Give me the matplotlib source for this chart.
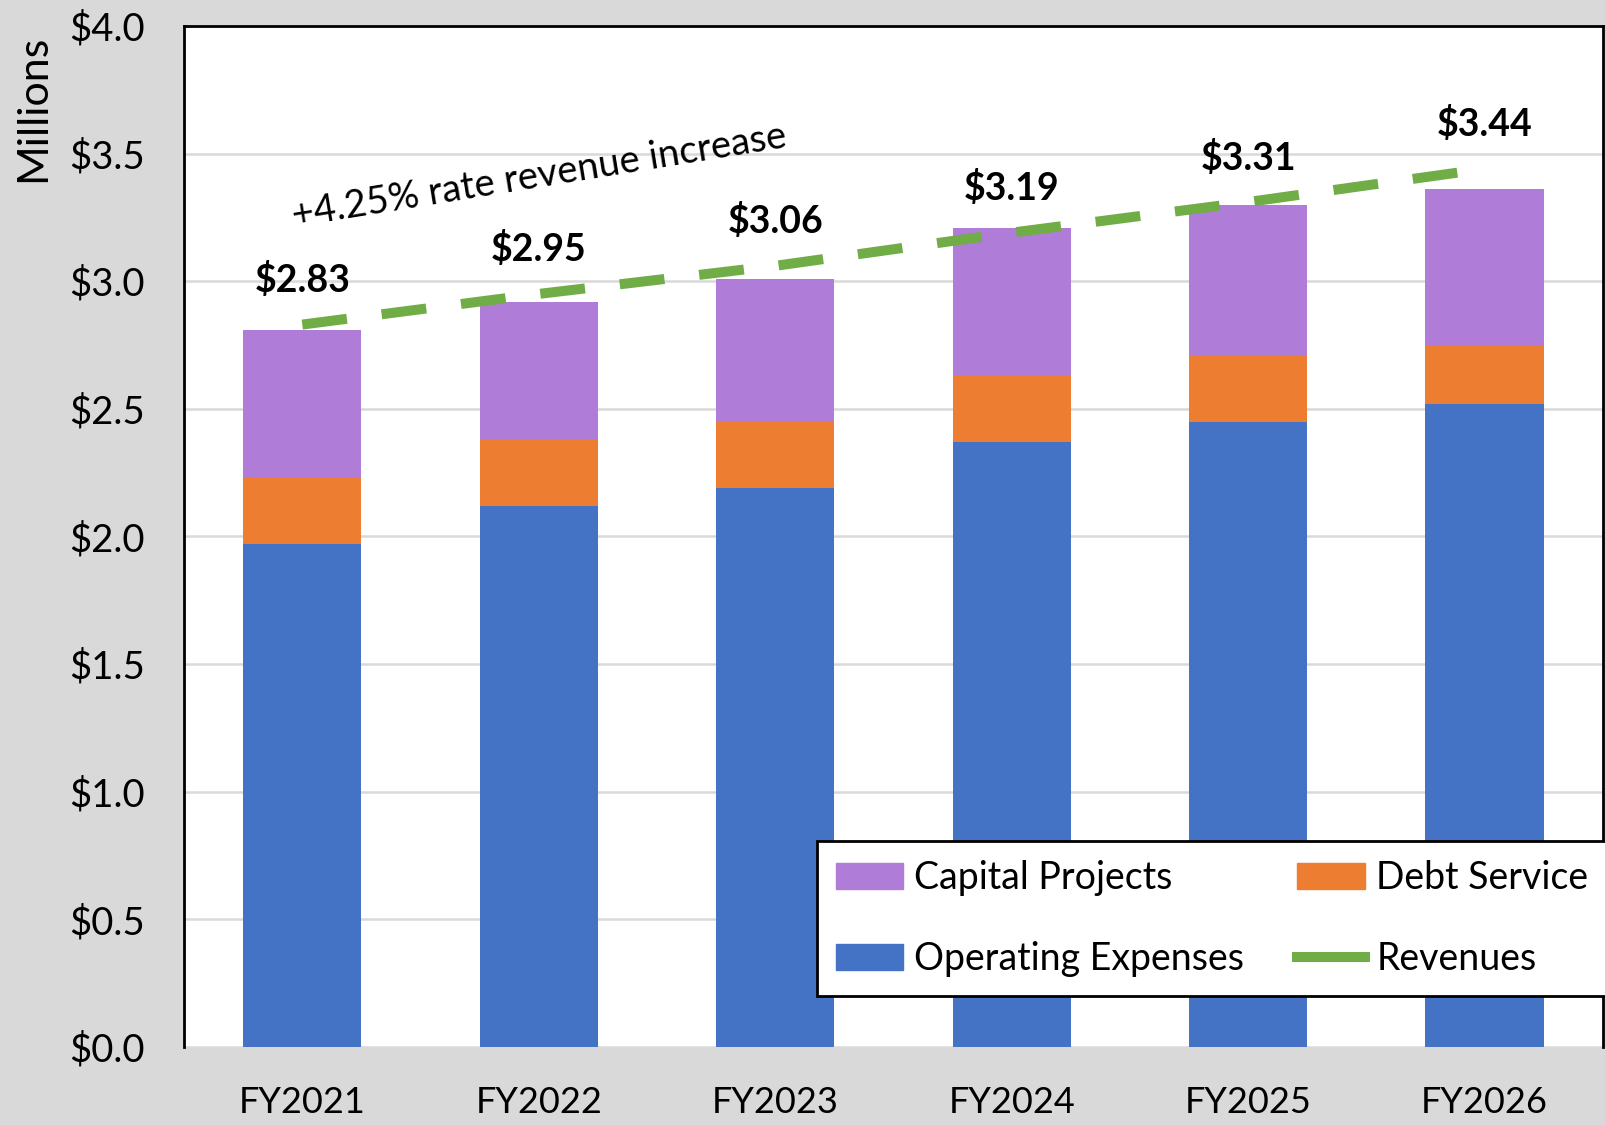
import numpy as np
import matplotlib.pyplot as plt
from matplotlib.patches import Patch
from matplotlib.lines import Line2D

plt.rcParams['font.family'] = ['Lato', 'DejaVu Sans']

years = ['FY2021', 'FY2022', 'FY2023', 'FY2024', 'FY2025', 'FY2026']
operating = [1.97, 2.12, 2.19, 2.37, 2.45, 2.52]
debt = [0.26, 0.26, 0.26, 0.26, 0.26, 0.23]
capital = [0.58, 0.54, 0.56, 0.58, 0.59, 0.61]
revenues = [2.83, 2.95, 3.06, 3.19, 3.31, 3.44]

c_blue = '#4472C4'
c_orange = '#ED7D31'
c_purple = '#AF7DD8'
c_green = '#70AD47'
bg = '#D9D9D9'

fig = plt.figure(figsize=(16.06, 11.25), dpi=100, facecolor=bg)
ax = fig.add_axes([0.1146, 0.0693, 0.8834, 0.9077])
ax.set_facecolor('white')

x = np.arange(len(years))
w = 0.5
op = np.array(operating)
db = np.array(debt)
ax.bar(x, op, w, color=c_blue, zorder=2)
ax.bar(x, db, w, bottom=op, color=c_orange, zorder=2)
ax.bar(x, capital, w, bottom=op + db, color=c_purple, zorder=2)

line, = ax.plot(x, revenues, color=c_green, lw=7.2, zorder=3,
                solid_capstyle='butt', dash_capstyle='butt')
line.set_dashes((4.5, 3.5))

for xi, r in zip(x, revenues):
    ax.annotate(f'${r:.2f}', (xi, r), xytext=(0, 32), textcoords='offset points',
                ha='center', va='center', fontsize=27, fontweight='bold')

ax.text(1.0, 3.41, '+4.25% rate revenue increase', rotation=9.2,
        ha='center', va='center', fontsize=27.5, rotation_mode='anchor')

ax.set_xlim(-0.5, 5.5)
ax.set_ylim(0, 4.0)
ax.set_yticks(np.arange(0, 4.01, 0.5))
ax.set_yticklabels([f'${v:.1f}' for v in np.arange(0, 4.01, 0.5)])
ax.set_xticks(x)
ax.set_xticklabels(years)
ax.tick_params(axis='both', length=0, labelsize=26, pad=28)
ax.tick_params(axis='y', labelsize=27.5)
ax.yaxis.grid(True, color='#D9D9D9', lw=1.8, zorder=0)
ax.set_axisbelow(True)

for s in ['left', 'top', 'right']:
    ax.spines[s].set_color('black')
    ax.spines[s].set_linewidth(2)
ax.spines['bottom'].set_visible(False)

fig.text(0.0205, 0.904, 'Millions', rotation=90, ha='center', va='center', fontsize=31)

handles = [Patch(color=c_purple), Patch(color=c_blue),
           Patch(color=c_orange), Line2D([], [], color=c_green, lw=7.2)]
labels = ['Capital Projects', 'Operating Expenses', 'Debt Service', 'Revenues']
leg = ax.legend(handles, labels, ncol=2, loc='lower left',
                bbox_to_anchor=(0.446, 0.05, 0.557, 0.155), mode='expand',
                fontsize=27, frameon=True, fancybox=False, framealpha=1,
                edgecolor='black', labelspacing=1.2, handlelength=1.8,
                handleheight=0.7, handletextpad=0.3, columnspacing=0.6,
                borderpad=0.5, borderaxespad=0)
leg.get_frame().set_linewidth(2)
leg.set_zorder(5)

fig.savefig('out.png', dpi=100, facecolor=bg)
